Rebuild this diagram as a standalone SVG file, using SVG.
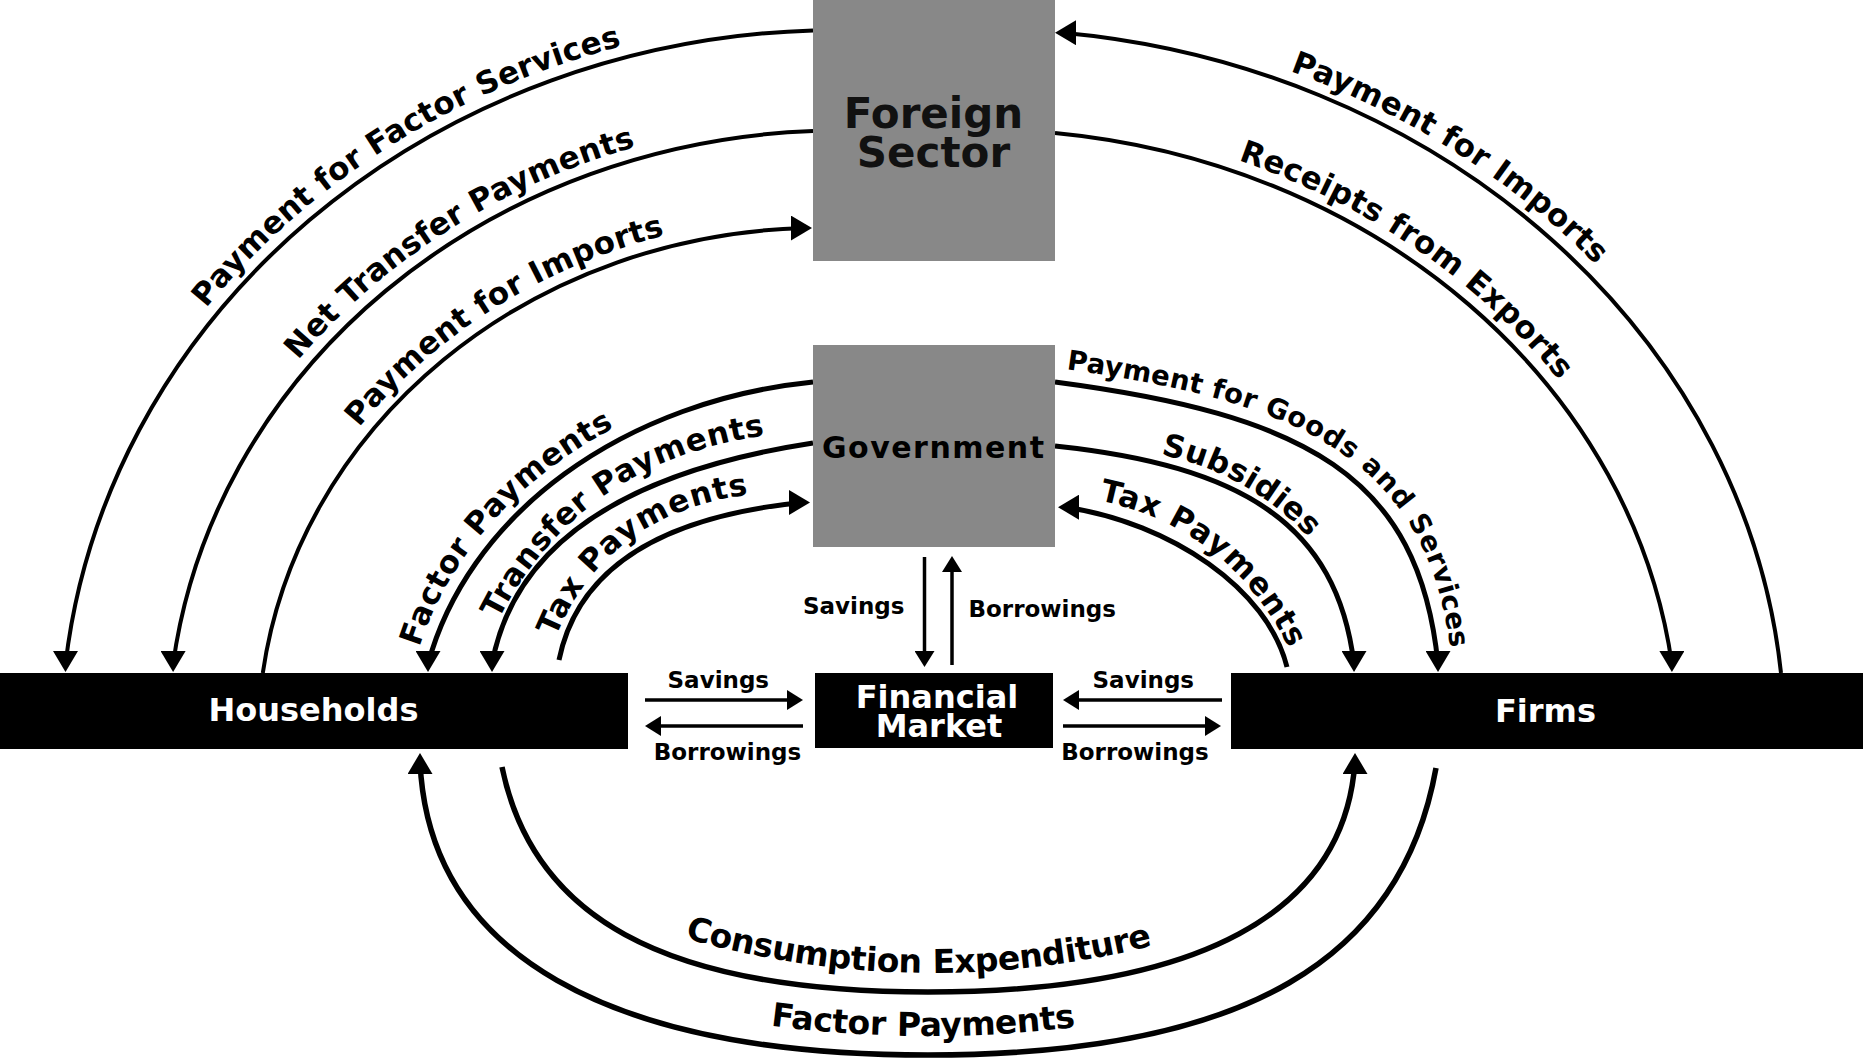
<svg xmlns="http://www.w3.org/2000/svg" width="1863" height="1060" viewBox="0 0 1863 1060">
<style>
.conn{fill:none;stroke:#000}
.outer{stroke-width:4}
.inner{stroke-width:5}
.bottom{stroke-width:5.5}
.straight{stroke-width:3.5}
.lbl{font-family:"DejaVu Sans","Liberation Sans",sans-serif;font-weight:bold;fill:#000}
.arc{font-size:31px}
.arcs{font-size:27.5px}
.arcb{font-size:33px}
.small{font-size:23px;text-anchor:middle}
.boxw{font-size:32px;fill:#fff;text-anchor:middle}
.boxg{font-size:42px;fill:#111;text-anchor:middle}
.gray{fill:#888}
.black{fill:#000}
</style>
<defs>
<marker id="aDown" markerUnits="userSpaceOnUse" markerWidth="21" markerHeight="25" viewBox="0 0 21 25" refX="13" refY="12.5" orient="90"><path d="M0,0L21,12.5L0,25z"/></marker>
<marker id="aUp" markerUnits="userSpaceOnUse" markerWidth="21" markerHeight="25" viewBox="0 0 21 25" refX="13" refY="12.5" orient="270"><path d="M0,0L21,12.5L0,25z"/></marker>
<marker id="aRight" markerUnits="userSpaceOnUse" markerWidth="21" markerHeight="25" viewBox="0 0 21 25" refX="13" refY="12.5" orient="0"><path d="M0,0L21,12.5L0,25z"/></marker>
<marker id="aLeft" markerUnits="userSpaceOnUse" markerWidth="21" markerHeight="25" viewBox="0 0 21 25" refX="13" refY="12.5" orient="180"><path d="M0,0L21,12.5L0,25z"/></marker>
<marker id="sArrow" markerUnits="userSpaceOnUse" markerWidth="16" markerHeight="20" viewBox="0 0 16 20" refX="12" refY="10" orient="auto"><path d="M0,0L16,10L0,20z"/></marker>
<path id="t1" d="M190.4,348.2 A779,710 0 0 1 664.7,48.2"/>
<path id="t2" d="M282.7,399.2 A672.2,609.5 0 0 1 677.4,148.6"/>
<path id="t3" d="M344.9,466.3 A562,512.1 0 0 1 706,238.5"/>
<path id="t4" d="M424.1,680.5 A452.1,360.9 0 0 1 647.4,425.9"/>
<path id="t5" d="M492.5,665.5 Q570.75,461.4 802,444.5"/>
<path id="t6" d="M555,679.6 Q599.7,513.5 780,505"/>
<path id="t7" d="M1249.2,69.9 A804.6,711.1 0 0 1 1613.5,301.5"/>
<path id="t8" d="M1197.8,160 A697.3,610.5 0 0 1 1572.6,418.3"/>
<path id="t9" d="M1025,378 L1055,382 C1305.5,415 1419,475 1438,664 L1440.6,689.9"/>
<path id="t10" d="M1127,456.6 Q1254.2,472.9 1323,568"/>
<path id="t11" d="M1066,507.2 Q1229.1,526.2 1291,682"/>
<path id="t12" d="M656,949.5 Q915.5,1029.85 1181,958"/>
<path id="t13" d="M740,1040.7 Q923,1068.55 1106,1042.2"/>
</defs>
<rect x="0" y="0" width="1863" height="1060" fill="#fff"/>

<g id="connectors">
<path id="c-pay-factor-services" class="conn outer" d="M65.5,664 A779,710 0 0 1 813,30.4" marker-start="url(#aDown)"/>
<path id="c-net-transfer" class="conn outer" d="M173.1,664 A672.2,609.5 0 0 1 813,131" marker-start="url(#aDown)"/>
<path id="c-imports-left" class="conn outer" d="M262.8,673 A562,512.1 0 0 1 804,228.1" marker-end="url(#aRight)"/>
<path id="c-factor-top" class="conn inner" d="M428,664 A452.1,360.9 0 0 1 813,382" marker-start="url(#aDown)"/>
<path id="c-transfer" class="conn inner" d="M492,664 C514.6,541 629.2,471.3 813,443" marker-start="url(#aDown)"/>
<path id="c-tax-left" class="conn inner" d="M559,660 C577.4,570 658.4,517 802,502.5" marker-end="url(#aRight)"/>
<path id="c-imports-right" class="conn outer" d="M1063,32.7 A804.6,711.1 0 0 1 1781,673" marker-start="url(#aLeft)"/>
<path id="c-exports" class="conn outer" d="M1055,133 A697.3,610.5 0 0 1 1671.9,664" marker-end="url(#aDown)"/>
<path id="c-goods" class="conn inner" d="M1055,382 C1305.5,415 1419,475 1438,664" marker-end="url(#aDown)"/>
<path id="c-subsidies" class="conn inner" d="M1055,446 C1241.9,465.7 1337,524 1354,664" marker-end="url(#aDown)"/>
<path id="c-tax-right" class="conn inner" d="M1066,507.2 C1171,523 1267.7,588.9 1287,667" marker-start="url(#aLeft)"/>
<path id="c-consumption" class="conn bottom" d="M502,767 C532,914 658,992 928,992 C1198,992 1345,914 1355,761" marker-end="url(#aUp)"/>
<path id="c-factor-bottom" class="conn bottom" d="M420,761 C428,954 608,1055 928,1055 C1248,1055 1402,958 1436,768" marker-start="url(#aUp)"/>
<path id="c-hh-savings" class="conn straight" d="M645,700 L799,700" marker-end="url(#sArrow)"/>
<path id="c-hh-borrow" class="conn straight" d="M803,726 L649,726" marker-end="url(#sArrow)"/>
<path id="c-firm-savings" class="conn straight" d="M1222,700 L1067,700" marker-end="url(#sArrow)"/>
<path id="c-firm-borrow" class="conn straight" d="M1063,726 L1217,726" marker-end="url(#sArrow)"/>
<path id="c-gov-savings" class="conn straight" d="M924.5,557 L924.5,663" marker-end="url(#sArrow)"/>
<path id="c-gov-borrow" class="conn straight" d="M952,665 L952,560" marker-end="url(#sArrow)"/>
</g>

<g id="connector-labels" class="lbl">
<text class="arc" dy="-12"><textPath href="#t1" startOffset="50%" text-anchor="middle">Payment for Factor Services</textPath></text>
<text class="arc" dy="-12"><textPath href="#t2" startOffset="50%" text-anchor="middle">Net Transfer Payments</textPath></text>
<text class="arc" dy="-12"><textPath href="#t3" startOffset="50%" text-anchor="middle">Payment for Imports</textPath></text>
<text class="arc" dy="-13"><textPath href="#t4" startOffset="50%" text-anchor="middle">Factor Payments</textPath></text>
<text class="arc" dy="-13"><textPath href="#t5" startOffset="51%" text-anchor="middle">Transfer Payments</textPath></text>
<text class="arc" dy="-13"><textPath href="#t6" startOffset="51.5%" text-anchor="middle">Tax Payments</textPath></text>
<text class="arc" dy="-12"><textPath href="#t7" startOffset="50%" text-anchor="middle">Payment for Imports</textPath></text>
<text class="arc" dy="-12"><textPath href="#t8" startOffset="50%" text-anchor="middle">Receipts from Exports</textPath></text>
<text class="arcs" dy="-14"><textPath href="#t9" startOffset="50%" text-anchor="middle">Payment for Goods and Services</textPath></text>
<text class="arc" dy="-8"><textPath href="#t10" startOffset="50%" text-anchor="middle">Subsidies</textPath></text>
<text class="arc" dy="-12"><textPath href="#t11" startOffset="50%" text-anchor="middle">Tax Payments</textPath></text>
<text class="arcb" dy="-19"><textPath href="#t12" startOffset="50%" text-anchor="middle">Consumption Expenditure</textPath></text>
<text class="arcb" dy="-19"><textPath href="#t13" startOffset="50%" text-anchor="middle">Factor Payments</textPath></text>
<text class="small" x="718.3" y="688">Savings</text>
<text class="small" x="727.5" y="760">Borrowings</text>
<text class="small" x="1143.3" y="688">Savings</text>
<text class="small" x="1135" y="760">Borrowings</text>
<text class="small" x="853.7" y="614">Savings</text>
<text class="small" x="1042.2" y="617">Borrowings</text>
</g>

<g id="node-foreign-sector">
<rect class="gray" x="813" y="0" width="242" height="261"/>
<text class="lbl boxg" x="933.5" y="128">Foreign</text>
<text class="lbl boxg" x="933.5" y="167">Sector</text>
</g>
<g id="node-government">
<rect class="gray" x="813" y="345" width="242" height="202"/>
<text class="lbl" x="933" y="458" font-size="30" fill="#111" text-anchor="middle" textLength="222" lengthAdjust="spacing">Government</text>
</g>
<g id="node-households">
<rect class="black" x="0" y="673" width="628" height="76"/>
<text class="lbl boxw" x="313.5" y="721">Households</text>
</g>
<g id="node-financial-market">
<rect class="black" x="815" y="673" width="238" height="75"/>
<text class="lbl boxw" x="937" y="707.5">Financial</text>
<text class="lbl boxw" x="939" y="737">Market</text>
</g>
<g id="node-firms">
<rect class="black" x="1231" y="673" width="632" height="76"/>
<text class="lbl boxw" x="1545.5" y="722">Firms</text>
</g>
</svg>
